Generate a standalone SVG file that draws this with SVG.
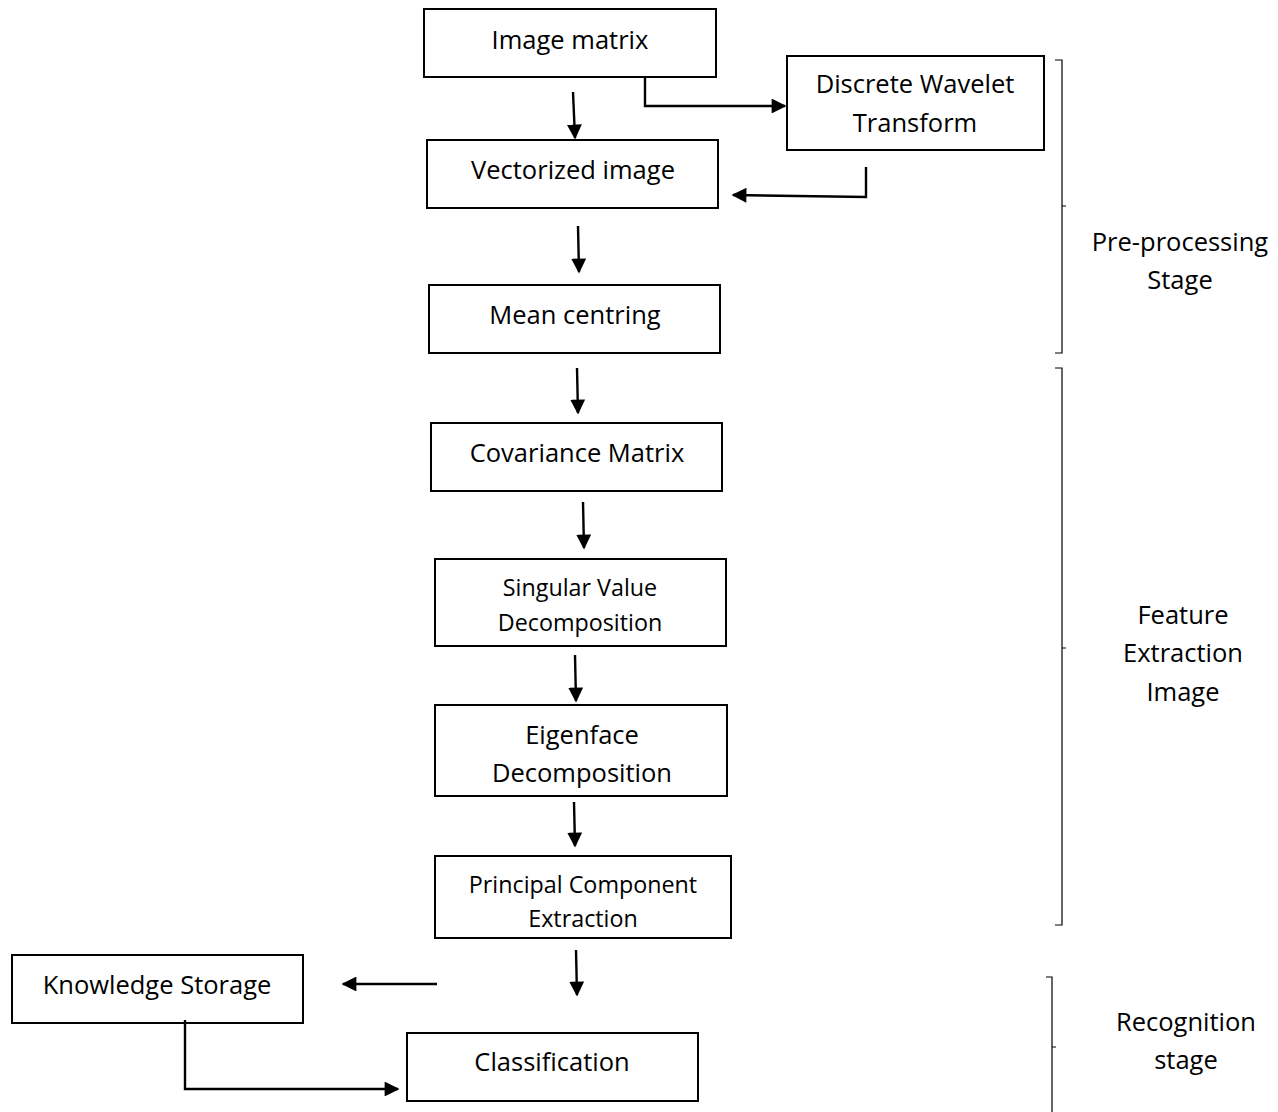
<svg xmlns="http://www.w3.org/2000/svg" width="1278" height="1112" viewBox="0 0 1278 1112">
<style>
.box{fill:#fff;stroke:#000;stroke-width:2}
.t{font-family:"Open Sans",Lato,sans-serif;font-size:25.5px;fill:#000;text-anchor:middle}
.s{font-size:23.3px}
.c{fill:none;stroke:#000;stroke-width:2.4}
.b{fill:none;stroke:#000;stroke-width:1.2}
</style>
<defs>
<marker id="ah" viewBox="0 0 10 10" refX="9" refY="5" markerWidth="6.4" markerHeight="6.2" orient="auto" markerUnits="strokeWidth">
<path d="M0,0 L10,5 L0,10 z" fill="#000"/>
</marker>
</defs>
<rect width="1278" height="1112" fill="#fff"/>
<g id="n-image-matrix"><rect class="box" x="424" y="9" width="292" height="68"/><text class="t" x="570" y="49">Image matrix</text></g>
<g id="n-dwt"><rect class="box" x="787" y="56" width="257" height="94"/><text class="t" x="915" y="93">Discrete Wavelet</text><text class="t" x="915" y="132">Transform</text></g>
<g id="n-vectorized"><rect class="box" x="427" y="140" width="291" height="68"/><text class="t" x="573" y="179">Vectorized image</text></g>
<g id="n-mean"><rect class="box" x="429" y="285" width="291" height="68"/><text class="t" x="575" y="324">Mean centring</text></g>
<g id="n-cov"><rect class="box" x="431" y="423" width="291" height="68"/><text class="t" x="577" y="462">Covariance Matrix</text></g>
<g id="n-svd"><rect class="box" x="435" y="559" width="291" height="87"/><text class="t s" x="580" y="596">Singular Value</text><text class="t s" x="580" y="631">Decomposition</text></g>
<g id="n-eigen"><rect class="box" x="435" y="705" width="292" height="91"/><text class="t" x="582" y="744">Eigenface</text><text class="t" x="582" y="782">Decomposition</text></g>
<g id="n-pce"><rect class="box" x="435" y="856" width="296" height="82"/><text class="t s" x="583" y="893">Principal Component</text><text class="t s" x="583" y="927">Extraction</text></g>
<g id="n-knowledge"><rect class="box" x="12" y="955" width="291" height="68"/><text class="t" x="157" y="994">Knowledge Storage</text></g>
<g id="n-class"><rect class="box" x="407" y="1033" width="291" height="68"/><text class="t" x="552" y="1071">Classification</text></g>
<g id="connectors">
<path class="c" d="M573,92 L575,138" marker-end="url(#ah)"/>
<path class="c" d="M645,77 L645,106 L785,106" marker-end="url(#ah)"/>
<path class="c" d="M866,167 L866,197 L733,195" marker-end="url(#ah)"/>
<path class="c" d="M578,226 L579,272" marker-end="url(#ah)"/>
<path class="c" d="M577,368 L578,413" marker-end="url(#ah)"/>
<path class="c" d="M583,502 L584,548" marker-end="url(#ah)"/>
<path class="c" d="M575,655 L576,701" marker-end="url(#ah)"/>
<path class="c" d="M574,802 L575,846" marker-end="url(#ah)"/>
<path class="c" d="M576,950 L577,995" marker-end="url(#ah)"/>
<path class="c" d="M437,984 L343,984" marker-end="url(#ah)"/>
<path class="c" d="M185,1020 L185,1089 L398,1089" marker-end="url(#ah)"/>
</g>
<g id="brackets">
<path class="b" d="M1055,60 L1062,60 L1062,353 L1055,353 M1062,206 L1066,206"/>
<path class="b" d="M1055,368 L1062,368 L1062,925 L1055,925 M1062,648 L1066,648"/>
<path class="b" d="M1046,977 L1052,977 L1052,1112 M1052,1047 L1056,1047"/>
</g>
<g id="labels">
<text class="t" x="1180" y="251">Pre-processing</text><text class="t" x="1180" y="289">Stage</text>
<text class="t" x="1183" y="624">Feature</text><text class="t" x="1183" y="662">Extraction</text><text class="t" x="1183" y="701">Image</text>
<text class="t" x="1186" y="1031">Recognition</text><text class="t" x="1186" y="1069">stage</text>
</g>
</svg>
